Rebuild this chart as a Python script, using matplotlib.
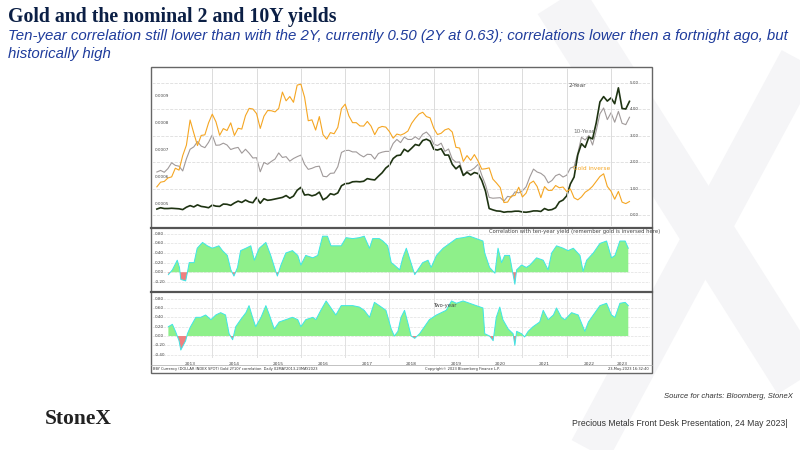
import matplotlib
matplotlib.use("Agg")
import matplotlib.pyplot as plt
import numpy as np
from matplotlib.transforms import blended_transform_factory as btf

# ---------------- data ----------------
start_year = 2012.75  # Sep 2012, monthly values
gold_price = [1772,1720,1712,1675,
 1664,1580,1598,1472,1393,1234,1312,1396,1327,1323,1250,1202,
 1244,1326,1284,1296,1250,1327,1282,1287,1210,1172,1175,1199,
 1283,1213,1183,1184,1190,1172,1095,1135,1115,1142,1065,1061,
 1118,1238,1233,1293,1215,1322,1351,1309,1316,1277,1173,1151,
 1211,1249,1249,1268,1269,1242,1269,1322,1280,1271,1275,1303,
 1345,1318,1325,1315,1299,1253,1224,1201,1192,1215,1222,1282,
 1321,1313,1292,1284,1305,1409,1414,1520,1472,1511,1464,1517,
 1589,1585,1577,1687,1730,1781,1975,1968,1886,1878,1777,1898,
 1848,1734,1708,1769,1907,1770,1814,1814,1757,1783,1774,1829,
 1797,1909,1937,1897,1837,1807,1766,1711,1660,1633,1768,1824,
 1928,1827,1969,1990,1960]
yield10 = [1.63,1.69,1.62,1.76,
 1.98,1.88,1.85,1.67,2.13,2.49,2.58,2.78,2.61,2.55,2.75,3.03,
 2.64,2.65,2.72,2.65,2.48,2.53,2.56,2.34,2.49,2.34,2.16,2.17,
 1.64,1.99,1.92,2.03,2.12,2.35,2.18,2.21,2.04,2.14,2.21,2.27,
 1.92,1.73,1.77,1.83,1.85,1.47,1.45,1.58,1.59,1.83,2.37,2.44,
 2.45,2.39,2.39,2.28,2.20,2.30,2.29,2.12,2.33,2.38,2.41,2.41,
 2.71,2.86,2.74,2.95,2.86,2.86,2.96,2.86,3.06,3.14,2.99,2.68,
 2.63,2.72,2.41,2.50,2.12,2.00,2.01,1.50,1.66,1.69,1.78,1.92,
 1.51,1.15,0.67,0.64,0.65,0.66,0.53,0.71,0.68,0.88,0.84,0.92,
 1.07,1.44,1.74,1.63,1.58,1.47,1.22,1.31,1.49,1.55,1.44,1.51,
 1.78,1.83,2.34,2.94,2.84,3.01,2.65,3.19,3.83,4.05,3.61,3.87,
 3.51,3.92,3.47,3.42,3.70]
yield2 = [0.23,0.28,0.25,0.25,
 0.26,0.25,0.24,0.21,0.30,0.36,0.31,0.39,0.33,0.31,0.28,0.38,
 0.34,0.33,0.42,0.41,0.37,0.46,0.53,0.48,0.57,0.50,0.47,0.67,
 0.45,0.62,0.56,0.58,0.61,0.64,0.67,0.74,0.64,0.72,0.94,1.05,
 0.76,0.78,0.73,0.77,0.87,0.58,0.66,0.81,0.77,0.84,1.11,1.19,
 1.20,1.26,1.27,1.26,1.28,1.38,1.35,1.33,1.47,1.60,1.78,1.89,
 2.14,2.25,2.27,2.49,2.40,2.53,2.67,2.63,2.82,2.87,2.80,2.49,
 2.46,2.51,2.27,2.27,1.92,1.75,1.87,1.50,1.62,1.52,1.61,1.57,
 1.31,0.91,0.25,0.20,0.16,0.15,0.11,0.13,0.13,0.15,0.15,0.12,
 0.11,0.13,0.16,0.16,0.14,0.25,0.19,0.21,0.28,0.50,0.57,0.73,
 1.18,1.44,2.28,2.70,2.56,2.95,2.88,3.49,4.28,4.48,4.31,4.43,
 4.21,4.81,4.03,4.01,4.30]

corr10_year = [2013.01,2013.10,2013.21,2013.26,2013.29,2013.40,2013.44,2013.48,2013.59,2013.66,2013.78,2013.89,
 2014.00,2014.15,2014.23,2014.34,2014.42,2014.49,2014.57,2014.64,2014.76,2014.87,2014.95,
 2015.06,2015.21,2015.32,2015.44,2015.47,2015.55,2015.66,2015.81,2015.93,
 2016.00,2016.11,2016.27,2016.38,2016.49,2016.60,2016.68,2016.79,2016.91,
 2017.02,2017.17,2017.32,2017.43,2017.55,2017.62,2017.77,2017.85,2017.96,
 2018.04,2018.11,2018.23,2018.30,2018.38,2018.45,2018.57,2018.64,2018.75,2018.87,2018.94,
 2019.06,2019.21,2019.36,2019.51,2019.66,2019.81,2019.96,
 2020.11,2020.15,2020.26,2020.38,2020.45,2020.53,2020.60,2020.71,2020.78,2020.83,2020.87,2020.98,
 2021.09,2021.17,2021.32,2021.47,2021.58,2021.66,2021.77,2021.92,
 2022.03,2022.15,2022.30,2022.37,2022.45,2022.60,2022.75,2022.90,
 2023.01,2023.09,2023.20,2023.32,2023.39]
corr10 = [-0.05,0.05,0.25,0.10,-0.15,-0.18,0.0,0.20,0.20,0.50,0.62,0.55,
 0.50,0.55,0.45,0.35,0.05,-0.08,0.10,0.45,0.50,0.55,0.25,
 0.50,0.62,0.35,0.0,-0.08,0.15,0.40,0.45,0.35,
 0.15,0.35,0.30,0.35,0.75,0.75,0.55,0.55,0.55,
 0.72,0.70,0.72,0.75,0.50,0.70,0.70,0.65,0.55,
 0.20,0.15,0.05,0.30,0.50,0.30,-0.05,0.05,0.20,0.25,0.10,
 0.35,0.50,0.60,0.70,0.72,0.75,0.70,
 0.65,0.40,0.10,-0.02,0.50,0.20,0.35,0.35,0.0,-0.25,0.05,0.15,
 0.10,0.15,0.30,0.25,0.05,0.40,0.55,0.50,
 0.45,0.50,0.35,0.02,0.25,0.40,0.60,0.65,
 0.30,0.35,0.65,0.65,0.50]

corr2_year = [2013.01,2013.10,2013.17,2013.25,2013.29,2013.40,2013.44,2013.51,2013.63,2013.74,2013.85,2013.97,
 2014.08,2014.19,2014.30,2014.38,2014.46,2014.53,2014.64,2014.76,2014.83,2014.91,2014.98,
 2015.10,2015.21,2015.29,2015.40,2015.51,2015.66,2015.81,2015.93,
 2016.00,2016.11,2016.27,2016.34,2016.45,2016.57,2016.68,2016.79,2016.91,
 2017.02,2017.17,2017.32,2017.43,2017.55,2017.66,2017.77,2017.92,
 2018.04,2018.11,2018.19,2018.26,2018.34,2018.41,2018.49,2018.57,2018.68,2018.79,2018.90,
 2019.06,2019.17,2019.28,2019.40,2019.51,2019.66,2019.81,2019.96,
 2020.11,2020.15,2020.26,2020.34,2020.41,2020.49,2020.56,2020.68,2020.79,2020.83,2020.87,2020.98,
 2021.05,2021.13,2021.24,2021.39,2021.47,2021.58,2021.70,2021.77,2021.88,2021.96,
 2022.11,2022.26,2022.41,2022.49,2022.60,2022.75,2022.90,
 2023.01,2023.09,2023.20,2023.32,2023.39]
corr2 = [0.20,0.25,0.10,-0.10,-0.30,-0.10,0.05,0.20,0.40,0.40,0.45,0.35,
 0.45,0.50,0.45,0.05,-0.08,0.20,0.35,0.50,0.65,0.40,0.20,
 0.40,0.65,0.45,0.15,0.30,0.35,0.40,0.35,
 0.20,0.35,0.40,0.35,0.55,0.75,0.60,0.45,0.65,
 0.65,0.65,0.62,0.55,0.40,0.72,0.65,0.55,
 0.15,0.0,0.10,0.40,0.55,0.30,0.0,-0.05,0.05,0.20,0.35,
 0.45,0.50,0.55,0.75,0.70,0.75,0.70,0.65,
 0.60,0.05,0.0,-0.10,0.40,0.62,0.35,0.15,0.05,-0.20,0.10,0.05,
 -0.02,0.10,0.20,0.30,0.55,0.35,0.45,0.60,0.40,0.35,
 0.50,0.45,0.10,0.30,0.45,0.65,0.70,
 0.45,0.40,0.70,0.72,0.65]

year_labels = ["2013","2014","2015","2016","2017","2018","2019","2020","2021","2022","2023"]

# ---------------- figure ----------------
W, H = 800, 450
fig = plt.figure(figsize=(8, 4.5), dpi=100)
fig.patch.set_facecolor("white")

def rect(x0, y0, x1, y1):
    return [x0 / W, 1 - y1 / H, (x1 - x0) / W, (y1 - y0) / H]

# watermark X
bg = fig.add_axes([0, 0, 1, 1], zorder=-5)
bg.set_xlim(0, W); bg.set_ylim(H, 0); bg.axis("off")
bg.plot([560, 800], [0, 380], color="#f5f5f7", lw=38, solid_capstyle="butt", zorder=1)
bg.plot([800, 590], [60, 450], color="#f5f5f7", lw=30, solid_capstyle="butt", zorder=1)
bg.add_patch(plt.Rectangle((151, 67), 501, 306, fc="white", ec="none", zorder=3))

fig.text(8 / W, 1 - 17 / H, "Gold and the nominal 2 and 10Y yields", family="Liberation Serif",
         weight="bold", fontsize=14.3, color="#0b1f45", va="center")
fig.text(8 / W, 1 - 36 / H, "Ten-year correlation still lower than with the 2Y, currently 0.50 (2Y at 0.63); correlations lower then a fortnight ago, but",
         family="Liberation Sans", style="italic", fontsize=10.8, color="#1f3c9c", va="center")
fig.text(8 / W, 1 - 54 / H, "historically high", family="Liberation Sans", style="italic",
         fontsize=10.8, color="#1f3c9c", va="center")
fig.text(793 / W, 1 - 397 / H, "Source for charts: Bloomberg, StoneX", family="Liberation Sans",
         style="italic", fontsize=5.5, color="#333333", ha="right", va="center")
fig.text(45 / W, 1 - 419 / H, "StoneX", family="Liberation Serif", weight="bold", fontsize=15.5,
         color="#222222", va="center")
fig.text(787 / W, 1 - 423 / H, "Precious Metals Front Desk Presentation, 24 May 2023|",
         family="Liberation Sans", fontsize=6.2, color="#333333", ha="right", va="center")

xmin, xmax = 2012.64, 2023.88
years_b = np.arange(2013, 2024)

def style(ax):
    ax.set_xlim(xmin, xmax)
    ax.patch.set_alpha(0)
    for s in ax.spines.values():
        s.set_visible(False)
    ax.set_xticks([]); ax.set_yticks([])
    for yb in years_b[1:]:
        ax.axvline(yb, color="#dcdcdc", lw=0.6, zorder=0)

# top panel
ax = fig.add_axes(rect(152, 68, 650, 226))
style(ax)
t = start_year + np.arange(len(gold_price)) / 12.0
ax.set_ylim(-0.41, 5.56)
for v in range(6):
    ax.axhline(v, color="#dddddd", lw=0.6, ls="--", zorder=0)
    ax.text(0.96, v, f"{v:.2f}", transform=btf(ax.transAxes, ax.transData), fontsize=3,
            color="#444444", va="center")
ax.plot(t, yield10, color="#a09a9a", lw=0.8)
ax.plot(t, yield2, color="#1e3312", lw=1.2)
ax2 = ax.twinx()
style(ax2)
ax2.set_ylim(0.00042, 0.001002)
ax2.plot(t, 1.0 / np.array(gold_price), color="#f5a623", lw=0.8)
for v in [0.0005, 0.0006, 0.0007, 0.0008, 0.0009]:
    ax2.text(0.005, v, f"{v:.4f}", transform=btf(ax2.transAxes, ax2.transData), fontsize=3,
             color="#444444", va="center")
ax.text(2022.05, 4.85, "2-Year", fontsize=4.2, color="#444444")
ax.text(2022.15, 3.1, "10-Year", fontsize=4.2, color="#777777")
ax.text(2022.15, 1.7, "Gold inverse", fontsize=4.2, color="#f5a623")

def corr_panel(box, xs, ys, ylim, ticks, label, lx, ly):
    a = fig.add_axes(box)
    style(a)
    a.set_ylim(*ylim)
    xs = np.array(xs); ys = np.array(ys)
    for v in ticks:
        a.axhline(v, color="#e0e0e0", lw=0.5, ls="--", zorder=0)
        a.text(0.005, v, f"{v:.2f}", transform=btf(a.transAxes, a.transData), fontsize=3,
               color="#444444", va="center")
    a.fill_between(xs, 0, ys, where=ys >= 0, interpolate=True, color="#8ef08a", lw=0)
    a.fill_between(xs, 0, ys, where=ys < 0, interpolate=True, color="#f08080", lw=0)
    a.plot(xs, ys, color="#3ee6e6", lw=0.7)
    a.text(lx, ly, label, fontsize=3.8, color="#444444")
    return a

corr_panel(rect(152, 229, 650, 290), corr10_year, corr10, (-0.37, 0.9),
           [0.8, 0.6, 0.4, 0.2, 0.0, -0.2],
           "Correlation with ten-year yield (remember gold is inversed here)", 2020.25, 0.82)
a3 = corr_panel(rect(152, 293, 650, 358), corr2_year, corr2, (-0.47, 0.92),
                [0.8, 0.6, 0.4, 0.2, 0.0, -0.2, -0.4], "Two-year", 2019.0, 0.62)
for i, lab in enumerate(year_labels):
    xpos = 2013.5 + i if lab != "2023" else 2023.25
    a3.text(xpos, -0.6, lab, fontsize=3.2, color="#444444", ha="center", va="center",
            clip_on=False)

# frame and separators
bg.add_patch(plt.Rectangle((151, 67), 501, 306, fill=False, ec="#666666", lw=1, zorder=4))
for yy in (227.5, 291.5):
    bg.plot([151, 652], [yy, yy], color="#555555", lw=1.6, zorder=4)
bg.plot([151, 652], [365, 365], color="#aaaaaa", lw=0.5, zorder=4)
bg.text(153, 369, "BBY Currency (DOLLAR INDEX SPOT) Gold 2Y10Y correlation  Daily 02MAY2013-23MAY2023",
        fontsize=2.6, color="#333333", va="center", zorder=5)
bg.text(425, 369, "Copyright© 2023 Bloomberg Finance L.P.", fontsize=2.6, color="#333333", va="center", zorder=5)
bg.text(649, 369, "23-May-2023 16:32:40", fontsize=2.6, color="#333333", va="center", ha="right", zorder=5)

fig.savefig("out.png", dpi=100, facecolor="white")
